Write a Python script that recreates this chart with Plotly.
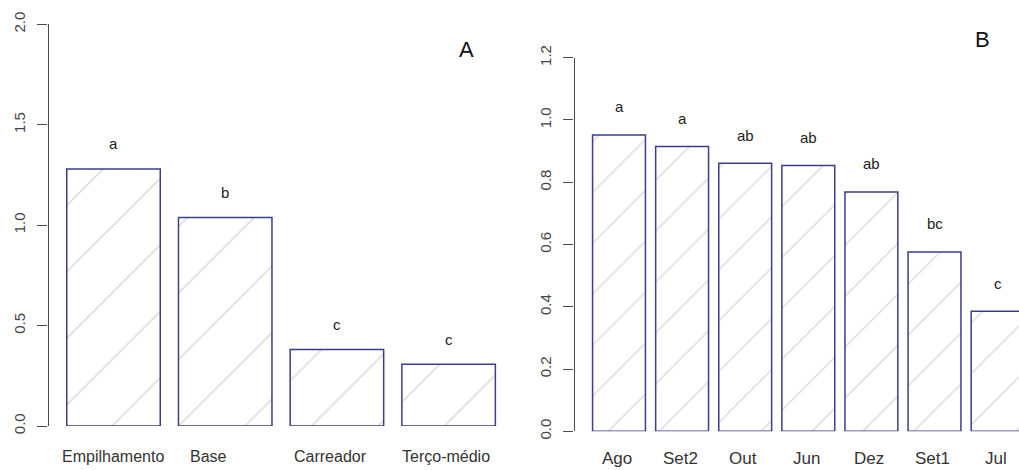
import plotly.graph_objects as go

# ---- data ----
locais = ["Empilhamento", "Base", "Carreador", "Terço-médio"]
valores_locais = [1.28, 1.038, 0.381, 0.308]
letras_locais = ["a", "b", "c", "c"]

meses = ["Ago", "Set2", "Out", "Jun", "Dez", "Set1", "Jul"]
valores_meses = [0.952, 0.915, 0.861, 0.854, 0.769, 0.576, 0.386]
letras_meses = ["a", "a", "ab", "ab", "ab", "bc", "c"]

ticks_a = [0.0, 0.5, 1.0, 1.5, 2.0]
ticks_b = [0.0, 0.2, 0.4, 0.6, 0.8, 1.0, 1.2]

# ---- style ----
FONT = "Liberation Sans, Arial, sans-serif"
EDGE = "#3c3c8c"
HATCH = "#b0b0b0"
AXC = "#4a4a4a"
label_shift_a = [-1, -17, -6, -3]

fig = go.Figure()

fig.add_trace(go.Bar(
    x=locais, y=valores_locais, width=0.837, xaxis="x", yaxis="y",
    marker=dict(color="white", line=dict(color=EDGE, width=1.5),
                pattern=dict(shape="/", size=47, solidity=0.03, fgcolor=HATCH, bgcolor="white")),
    showlegend=False, hoverinfo="skip"))

fig.add_trace(go.Bar(
    x=meses, y=valores_meses, width=0.838, xaxis="x2", yaxis="y2",
    marker=dict(color="white", line=dict(color=EDGE, width=1.5),
                pattern=dict(shape="/", size=36, solidity=0.035, fgcolor=HATCH, bgcolor="white")),
    showlegend=False, hoverinfo="skip"))

annotations = []
for c, v, l, s in zip(locais, valores_locais, letras_locais, label_shift_a):
    annotations.append(dict(x=c, y=v, xref="x", yref="y", text=l, showarrow=False,
                            yshift=25, yanchor="middle", font=dict(family=FONT, size=15, color="#222")))
    annotations.append(dict(x=c, y=0, xref="x", yref="y", text=c, showarrow=False,
                            yshift=-30, xshift=s, yanchor="middle",
                            font=dict(family=FONT, size=16, color="#333")))
for c, v, l in zip(meses, valores_meses, letras_meses):
    annotations.append(dict(x=c, y=v, xref="x2", yref="y2", text=l, showarrow=False,
                            yshift=28, yanchor="middle", font=dict(family=FONT, size=15, color="#222")))
    annotations.append(dict(x=c, y=0, xref="x2", yref="y2", text=c, showarrow=False,
                            yshift=-27, xshift=-2, yanchor="middle",
                            font=dict(family=FONT, size=17, color="#333")))

annotations.append(dict(x=0.458, y=0.894, xref="paper", yref="paper", text="A", showarrow=False,
                        xanchor="center", yanchor="middle", font=dict(family=FONT, size=22, color="#111")))
annotations.append(dict(x=0.9637, y=0.915, xref="paper", yref="paper", text="B", showarrow=False,
                        xanchor="center", yanchor="middle", font=dict(family=FONT, size=22, color="#111")))

yax_common = dict(showgrid=False, zeroline=False, showline=True, linecolor=AXC, linewidth=1.2,
                  ticks="outside", ticklen=10, tickcolor=AXC, tickwidth=1.2, tickangle=-90,
                  tickfont=dict(family=FONT, size=15, color="#444"), ticklabelstandoff=6,
                  automargin=False)

fig.update_layout(
    width=1019, height=470, margin=dict(l=0, r=0, t=0, b=0, pad=0, autoexpand=False),
    paper_bgcolor="white", plot_bgcolor="white",
    xaxis=dict(domain=[0.0476, 0.5], range=[-0.582, 3.545], visible=False, anchor="y"),
    yaxis=dict(domain=[0.0936, 0.9483], range=[0, 2.0], anchor="x",
               tickvals=ticks_a, ticktext=[f"{t:.1f}" for t in ticks_a], **yax_common),
    xaxis2=dict(domain=[0.5638, 1.0], range=[-0.705, 6.339], visible=False, anchor="y2"),
    yaxis2=dict(domain=[0.0823, 0.8772], range=[0, 1.2], anchor="x2",
                tickvals=ticks_b, ticktext=[f"{t:.1f}" for t in ticks_b], **yax_common),
    annotations=annotations,
)

fig.write_html("out.html")
